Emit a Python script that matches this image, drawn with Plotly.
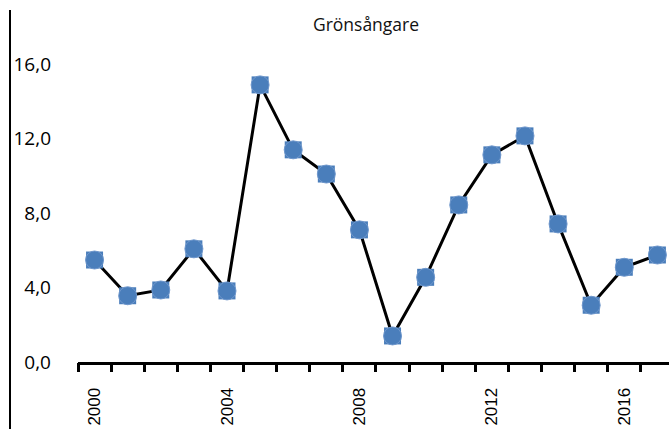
import plotly.graph_objects as go

years = list(range(2000, 2018))
values = [5.48, 3.56, 3.87, 6.08, 3.82, 14.89, 11.40, 10.10, 7.10, 1.40,
          4.55, 8.44, 11.13, 12.15, 7.42, 3.05, 5.09, 5.75]
y_ticks = [0, 4, 8, 12, 16]
label_years = [2000, 2004, 2008, 2012, 2016]
title_text = "Grönsångare"

blue = "#4A7EBB"

boundaries = [y - 0.5 for y in years] + [years[-1] + 0.5]

fig = go.Figure()
fig.add_trace(go.Scatter(
    x=years, y=values, mode="lines+markers",
    line=dict(color="black", width=3),
    marker=dict(symbol="square", size=17, color=blue, line=dict(width=0)),
    showlegend=False, hoverinfo="skip"))
fig.add_trace(go.Scatter(
    x=years, y=values, mode="markers", xaxis="x2",
    marker=dict(symbol="circle", size=18, color=blue,
                line=dict(width=1, color="#6F97CC")),
    showlegend=False))

W, H = 669, 429
L, R, T, B = 78, 0, 27, 67
pw, ph = W - L - R, H - T - B
xr = [1999.5, 2017.35]

fig.update_layout(
    width=W, height=H,
    margin=dict(l=L, r=R, t=T, b=B, pad=0),
    paper_bgcolor="white", plot_bgcolor="white",
    separators=", ",
    title=dict(text=title_text, x=366 / W, xref="container",
               xanchor="center", y=1 - 25 / H, yanchor="middle",
               font=dict(family="Open Sans, Noto Sans, sans-serif", size=17.5, color="#111")),
    xaxis=dict(
        range=xr, tickmode="array", tickvals=label_years,
        ticktext=[str(v) for v in label_years],
        ticks="", tickangle=-90, ticklabelstandoff=16,
        tickfont=dict(family="Liberation Sans, Arial, sans-serif", size=17, color="black"),
        showline=True, linecolor="black", linewidth=3, showgrid=False, zeroline=False,
        automargin=False,
    ),
    xaxis2=dict(
        range=xr, overlaying="x", side="bottom", anchor="y",
        tickmode="array", tickvals=boundaries,
        ticks="outside", ticklen=9, tickwidth=3, tickcolor="black",
        showticklabels=False,
        showline=False, showgrid=False, zeroline=False,
        automargin=False,
    ),
    yaxis=dict(
        range=[0, 18], tickmode="array", tickvals=y_ticks, tickformat=".1f",
        ticks="", showline=False, showgrid=False, zeroline=False,
        ticklabelstandoff=26,
        tickfont=dict(family="Open Sans, Noto Sans, sans-serif", size=19, color="black"),
        automargin=False,
    ),
    shapes=[dict(type="line", xref="paper", yref="paper",
                 x0=(10 - L) / pw, x1=(10 - L) / pw,
                 y0=-(B) / ph, y1=(H - B - 10) / ph,
                 line=dict(color="black", width=2))],
)

fig.write_html("out.html", config={"displayModeBar": False},
               post_script="document.body.style.margin='0';")
